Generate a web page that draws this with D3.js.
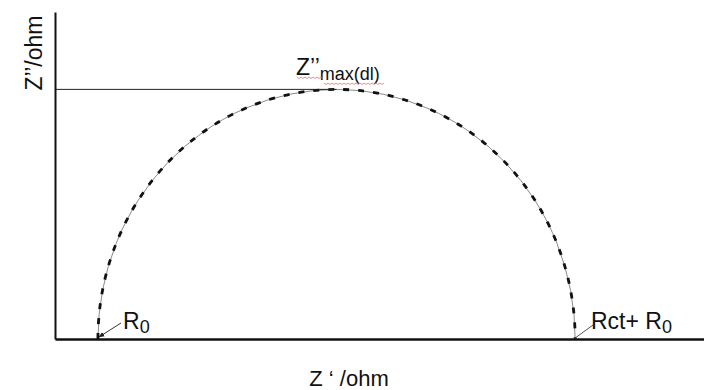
<!DOCTYPE html>
<html>
<head>
<meta charset="utf-8">
<script src="https://cdn.jsdelivr.net/npm/d3@7/dist/d3.min.js"></script>
<style>
  html, body { margin: 0; padding: 0; background: #fff; }
  svg { display: block; }
  text { font-family: "Liberation Sans", Arial, sans-serif; fill: #111; }
</style>
</head>
<body>
<svg id="chart" width="704" height="390"></svg>
<script>
// Randles-cell Nyquist plot: one charge-transfer semicircle
const R0 = 9;          // solution resistance, ohm
const Rct = 100;       // charge-transfer resistance, ohm
const zMax = Rct / 2;  // apex height of the semicircle, ohm
const xDomain = [0, 136];
const yDomain = [0, 65.5];

const svg = d3.select("#chart");
const W = 704, H = 390;
const margin = { left: 55, right: 0, top: 12, bottom: 51 };

const x = d3.scaleLinear().domain(xDomain).range([margin.left, W - margin.right]);
const y = d3.scaleLinear().domain(yDomain).range([H - margin.bottom, margin.top]);

// semicircle from R0 to R0 + Rct, drawn as an elliptical arc in screen space
const x0 = x(R0), x1 = x(R0 + Rct), yb = y(0);
const rx = (x1 - x0) / 2, ry = y(0) - y(zMax);
const arcPath = `M${x0},${yb} A${rx},${ry} 0 0 1 ${x1},${yb}`;

svg.append("path")
  .attr("d", arcPath)
  .attr("fill", "none")
  .attr("stroke", "#8a8a8a")
  .attr("stroke-width", 1);
svg.append("path")
  .attr("d", arcPath)
  .attr("fill", "none")
  .attr("stroke", "#111")
  .attr("stroke-width", 2.8)
  .attr("stroke-dasharray", "6,9");

// guide from the axis to the apex
svg.append("line")
  .attr("x1", x(0)).attr("x2", x(R0 + Rct / 2))
  .attr("y1", y(zMax)).attr("y2", y(zMax))
  .attr("stroke", "#222").attr("stroke-width", 1);

// axes without ticks
const xAxis = d3.axisBottom(x).tickValues([]).tickSizeOuter(0);
const yAxis = d3.axisLeft(y).tickValues([]).tickSizeOuter(0);
svg.append("g").attr("transform", `translate(0,${y(0)})`).call(xAxis)
  .select(".domain").attr("stroke", "#111").attr("stroke-width", 2.4);
svg.append("g").attr("transform", `translate(${x(0)},0)`).call(yAxis)
  .select(".domain").attr("stroke", "#111").attr("stroke-width", 2);

// axis titles
svg.append("text")
  .attr("transform", `translate(42,53) rotate(-90)`)
  .attr("text-anchor", "middle")
  .attr("font-size", 23)
  .text("Z’’/ohm");
svg.append("text")
  .attr("x", 349).attr("y", 386)
  .attr("text-anchor", "middle")
  .attr("font-size", 22)
  .text("Z ‘ /ohm");

// apex label
const apex = svg.append("text").attr("x", 296).attr("y", 75).attr("font-size", 23);
apex.append("tspan").text("Z’’");
apex.append("tspan").attr("dy", 5).attr("font-size", 18).text("max(dl)");

// wavy underline beneath the apex label
function squiggle(xa, xb, yy) {
  let d = `M${xa},${yy}`;
  for (let xx = xa, k = 0; xx < xb; xx += 2, k++) {
    d += ` L${xx + 2},${yy + (k % 2 ? 0 : 1.5)}`;
  }
  return d;
}
svg.append("path").attr("d", squiggle(297, 323, 77))
  .attr("fill", "none").attr("stroke", "#e57373").attr("stroke-width", 0.8);
svg.append("path").attr("d", squiggle(324, 383, 83))
  .attr("fill", "none").attr("stroke", "#e57373").attr("stroke-width", 0.8);

// R0 label with arrow to the left intercept
svg.append("defs").append("marker")
  .attr("id", "arrowhead")
  .attr("viewBox", "0 0 10 10").attr("refX", 9).attr("refY", 5)
  .attr("markerWidth", 6).attr("markerHeight", 6)
  .attr("orient", "auto")
  .append("path").attr("d", "M0,1 L10,5 L0,9 z").attr("fill", "#222");

svg.append("line")
  .attr("x1", 121).attr("y1", 323)
  .attr("x2", x0 + 1).attr("y2", yb - 2)
  .attr("stroke", "#333").attr("stroke-width", 1)
  .attr("marker-end", "url(#arrowhead)");
const r0 = svg.append("text").attr("x", 123).attr("y", 329).attr("font-size", 23);
r0.append("tspan").text("R");
r0.append("tspan").attr("dy", 4).attr("font-size", 18).text("0");

// Rct + R0 label at the right intercept
svg.append("line")
  .attr("x1", x1).attr("y1", yb - 1)
  .attr("x2", 593).attr("y2", 325)
  .attr("stroke", "#555").attr("stroke-width", 1);
const rct = svg.append("text").attr("x", 591).attr("y", 329).attr("font-size", 23);
rct.append("tspan").text("Rct+ R");
rct.append("tspan").attr("dy", 4).attr("font-size", 18).text("0");
</script>
</body>
</html>
